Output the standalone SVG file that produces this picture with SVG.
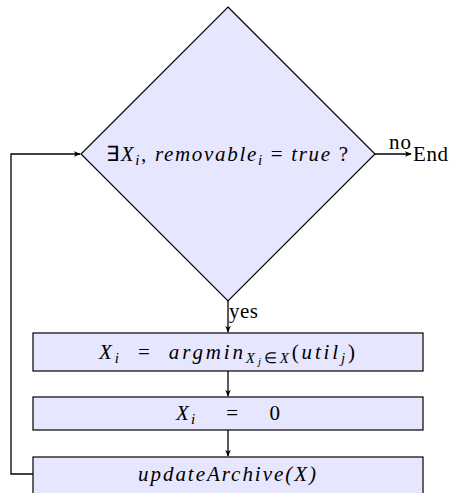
<svg xmlns="http://www.w3.org/2000/svg" width="463" height="493" viewBox="0 0 463 493">
<style>
.n{fill:#e6e6ff;stroke:#000;stroke-width:1.2}
.c{fill:none;stroke:#000;stroke-width:1.3}
text{font-family:"Liberation Serif","Times New Roman",serif;font-size:21px;fill:#000}
.m{font-style:italic}
.s{font-size:15px}
</style>
<defs>
<marker id="a" viewBox="0 0 10 10" refX="9" refY="5" markerWidth="7" markerHeight="7" orient="auto" markerUnits="userSpaceOnUse">
<path d="M0,1 L10,5 L0,9 L3,5 Z" fill="#000"/>
</marker>
</defs>
<rect width="463" height="493" fill="#fff"/>
<g id="decision">
<polygon class="n" points="228,7 375,154 228,301 81,154"/>
<text x="106" y="161" textLength="242" lengthAdjust="spacing"><tspan>∃</tspan><tspan class="m">X</tspan><tspan class="m s" dy="4">i</tspan><tspan dy="-4">, </tspan><tspan class="m">removable</tspan><tspan class="m s" dy="4">i</tspan><tspan dy="-4"> = </tspan><tspan class="m">true</tspan><tspan> ?</tspan></text>
</g>
<g id="argmin">
<rect class="n" x="33" y="333" width="390" height="38"/>
<text x="99" y="359" textLength="256" lengthAdjust="spacing"><tspan class="m">X</tspan><tspan class="m s" dy="4">i</tspan><tspan dy="-4" xml:space="preserve">  =  </tspan><tspan class="m">argmin</tspan><tspan class="m s" dy="4">X</tspan><tspan class="m" font-size="11" dy="2">j</tspan><tspan class="s" dy="-2">∈</tspan><tspan class="m s">X</tspan><tspan dy="-4">(</tspan><tspan class="m">util</tspan><tspan class="m s" dy="4">j</tspan><tspan dy="-4">)</tspan></text>
</g>
<g id="zero">
<rect class="n" x="33" y="397" width="390" height="33"/>
<text x="176" y="420" textLength="104" lengthAdjust="spacing" xml:space="preserve"><tspan class="m">X</tspan><tspan class="m s" dy="4">i</tspan><tspan dy="-4">    =    0</tspan></text>
</g>
<g id="update">
<rect class="n" x="33" y="457" width="390" height="45"/>
<text x="138" y="481" textLength="178" lengthAdjust="spacing" class="m">updateArchive(X)</text>
</g>
<g id="end">
<text x="413" y="161" textLength="35" lengthAdjust="spacing">End</text>
</g>
<g id="connectors">
<line class="c" x1="375" y1="154" x2="411" y2="154" marker-end="url(#a)"/>
<text x="389" y="149" font-size="17" textLength="22" lengthAdjust="spacing">no</text>
<line class="c" x1="228" y1="301" x2="228" y2="332" marker-end="url(#a)"/>
<text x="229" y="318" font-size="17" textLength="29" lengthAdjust="spacing">yes</text>
<line class="c" x1="228" y1="371" x2="228" y2="396" marker-end="url(#a)"/>
<line class="c" x1="228" y1="430" x2="228" y2="456" marker-end="url(#a)"/>
<polyline class="c" points="33,474 11,474 11,154 80,154" marker-end="url(#a)"/>
</g>
</svg>
